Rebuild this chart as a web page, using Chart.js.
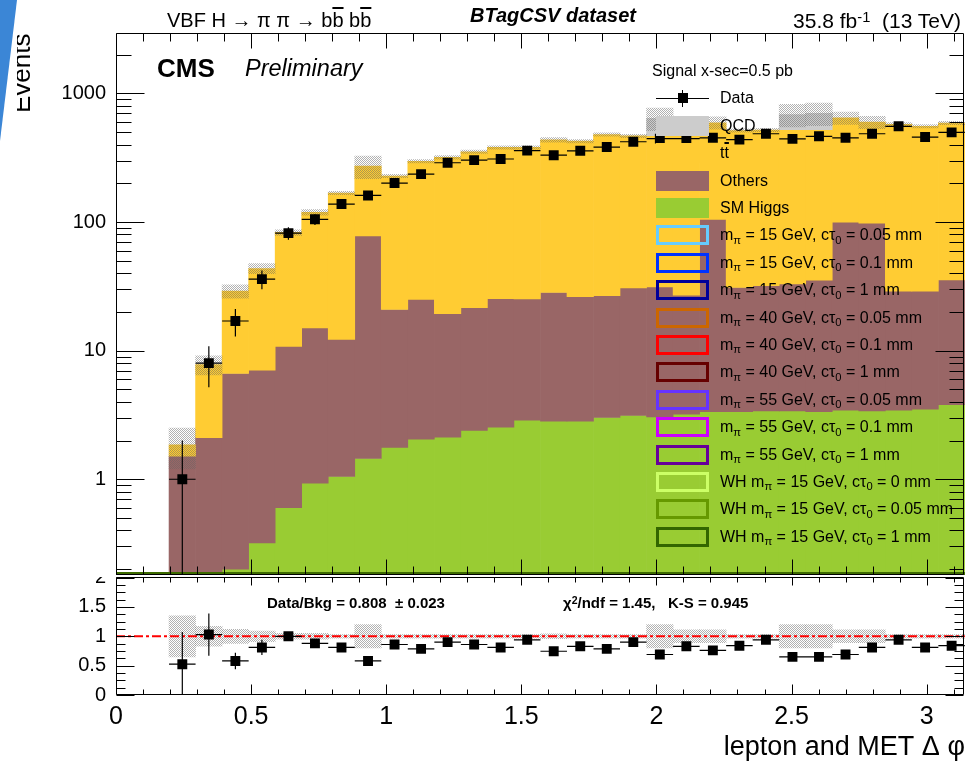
<!DOCTYPE html>
<html><head><meta charset="utf-8"><title>lepton and MET delta phi</title>
<script src="https://cdn.jsdelivr.net/npm/chart.js@4.4.1/dist/chart.umd.min.js"></script>
<style>
html,body{margin:0;padding:0;background:#fff;overflow:hidden}
#wrap{position:relative;width:969px;height:766px;overflow:hidden;background:#fff;font-family:"Liberation Sans",Arial,sans-serif;color:#000}
#ratioBox{position:absolute;left:0;top:556px;width:969px;height:210px;z-index:1}
#mainBox{position:absolute;left:0;top:0;width:969px;height:577px;z-index:2;background:#fff}
.lbl{position:absolute;white-space:nowrap;line-height:1;z-index:5}
.sub{position:relative;top:0.3em;font-size:0.7em}
.sup{position:relative;top:-0.45em;font-size:0.7em}
.ov{text-decoration:overline;text-decoration-thickness:2px}
.box{position:absolute;left:656px;width:53px;height:20px;box-sizing:border-box;z-index:4}
#evClip{position:absolute;left:17px;top:20px;width:30px;height:110px;overflow:hidden;z-index:5}
#stripe{position:absolute;left:0;top:0;width:20px;height:145px;background:#3b86d6;clip-path:polygon(0 0,17px 0,0 141px);z-index:6}
</style></head>
<body>
<div id="wrap">
  <div id="ratioBox"><canvas id="ratioChart"></canvas></div>
  <div id="mainBox"><canvas id="mainChart"></canvas></div>
  <div id="evClip"></div>
  <div id="stripe"></div>
</div>
<script>
// ---------------- data ----------------
const binCenters = [0.0491,0.1473,0.2454,0.3436,0.4418,0.5400,0.6381,0.7363,0.8345,0.9327,1.0308,1.1290,1.2272,1.3254,1.4235,1.5217,1.6199,1.7181,1.8162,1.9144,2.0126,2.1108,2.2089,2.3071,2.4053,2.5035,2.6016,2.6998,2.7980,2.8962,2.9943,3.0925];
const binWidth = 0.098175;
const smHiggs = [0,0,0,0,0.20,0.32,0.60,0.93,1.05,1.45,1.77,2.05,2.12,2.40,2.54,2.88,2.83,2.83,3.02,3.13,3.05,3.2,3.35,3.35,3.4,3.4,3.35,3.45,3.4,3.45,3.5,3.8];
const others = [0,0,1.51,2.10,6.44,6.73,10.2,14.1,11.2,76.5,19.1,23.0,17.3,19.2,22.8,22.4,25.5,23.5,23.7,27.6,28.3,23.8,101.6,27.6,28.6,29.6,32.0,96.5,94.6,25.5,25.5,31.6];
const ttbar = [0,0,0.34,5.7,22.4,36.5,72.2,104,156,194,207,272,299,330,355,355,407,399,453,437,439,513,487,484,488,489,487,545,500,546,526,553];
const qcd = [0,0,0,0,0,0,0,0,0,0,0,0,0,0,0,0,0,0,0,0,170,0,0,0,0,163,178,0,0,0,0,0];
const dataCounts = [null,null,1,8,17,36,82,105,138,161,201,236,289,303,309,359,331,358,383,421,445,445,452,437,486,443,464,452,486,555,458,498];
const dataErr = [0,0,1,2.8,4.1,6,9.1,10.2,11.7,12.7,14.2,15.4,17,17.4,17.6,18.9,18.2,18.9,19.6,20.5,21.1,21.1,21.3,20.9,22,21,21.5,21.3,22,23.6,21.4,22.3];
const mcRelErr = [0,0,0.35,0.17,0.12,0.09,0.05,0.05,0.03,0.2,0.03,0.03,0.03,0.03,0.03,0.03,0.04,0.03,0.03,0.03,0.2,0.11,0.11,0.03,0.03,0.2,0.2,0.11,0.11,0.03,0.03,0.03];
const ratioVals = [null,null,0.525,1.03,0.58,0.81,1.0,0.88,0.81,0.58,0.86,0.785,0.90,0.86,0.81,0.94,0.745,0.83,0.785,0.90,0.69,0.83,0.76,0.84,0.94,0.65,0.65,0.69,0.81,0.94,0.81,0.84];
const ratioErr = [0,0,0.55,0.36,0.14,0.13,0.07,0.06,0.05,0.05,0.04,0.04,0.04,0.04,0.04,0.04,0.035,0.04,0.035,0.04,0.04,0.04,0.04,0.04,0.04,0.035,0.035,0.035,0.04,0.04,0.04,0.04];
const xTickLabels = [0,0.5,1,1.5,2,2.5,3];
const yTickLabels = [1,10,100,1000];
const ratioTickLabels = [0,0.5,1,1.5,2];

// ---------------- helpers ----------------
Chart.defaults.font.family = "'Liberation Sans', Arial, sans-serif";
Chart.defaults.color = '#000';

const hatch = (function(){
  const c = document.createElement('canvas'); c.width = 2; c.height = 2;
  const g = c.getContext('2d');
  g.fillStyle = 'rgba(100,100,100,0.5)';
  g.fillRect(0,0,1,1); g.fillRect(1,1,1,1);
  return document.createElement('canvas').getContext('2d').createPattern(c,'repeat');
})();

const FLOOR = 1e-3;
const c1 = smHiggs.map(v=>v);
const c2 = c1.map((v,i)=>v+others[i]);
const c3 = c2.map((v,i)=>v+ttbar[i]);
const c4 = c3.map((v,i)=>v+qcd[i]);
function seg(lo, hi){
  return binCenters.map((c,i)=> (hi[i]-(lo?lo[i]:0) > 0) ? {x:c, y:[(lo && lo[i]>0)?lo[i]:FLOOR, hi[i]]} : {x:c, y:null});
}
const barCommon = {type:'bar', barPercentage:1, categoryPercentage:1, grouped:false, borderWidth:0, clip:0};
function fixY(s){ s.width = 116; s.paddingTop = 0; s.paddingBottom = 0; }

const frameTicks = {
  id:'frameTicks',
  afterDatasetsDraw(chart, args, o){
    const {ctx, chartArea:a, scales} = chart;
    const x = scales.x, y = scales.y;
    ctx.save();
    if (o.bottomLine){
      ctx.strokeStyle = o.bottomLine; ctx.lineWidth = 3;
      ctx.beginPath(); ctx.moveTo(a.left, a.bottom-1.5); ctx.lineTo(a.right, a.bottom-1.5); ctx.stroke();
    }
    ctx.strokeStyle = '#000'; ctx.lineWidth = 1;
    const L = Math.floor(a.left)+0.5, R = Math.floor(a.right)-0.5, T = Math.floor(a.top)+0.5, B = Math.floor(a.bottom)-0.5;
    ctx.beginPath();
    ctx.rect(L, T, R-L, B-T);
    for (let k=0;k<=31;k++){
      const v = k/10; const p = Math.round(x.getPixelForValue(v))+0.5;
      if (p > R) continue;
      const maj = k%5===0;
      const lb = maj?o.xMajB:o.xMinB, lt = maj?o.xMajT:o.xMinT;
      ctx.moveTo(p, B); ctx.lineTo(p, B-lb);
      ctx.moveTo(p, T); ctx.lineTo(p, T+lt);
    }
    const yv = o.yTicks();
    yv.forEach(t=>{
      if (t.v < y.min-1e-9 || t.v > y.max+1e-9) return;
      const p = Math.round(y.getPixelForValue(t.v))+0.5;
      const ll = t.maj?o.yMajL:o.yMinL, lr = t.maj?o.yMajR:o.yMinR;
      ctx.moveTo(L, p); ctx.lineTo(L+ll, p);
      ctx.moveTo(R, p); ctx.lineTo(R-lr, p);
    });
    ctx.stroke();
    const e = o.err;
    if (e){
      ctx.save();
      ctx.beginPath(); ctx.rect(a.left, a.top, a.right-a.left, a.bottom-a.top); ctx.clip();
      ctx.strokeStyle = '#000'; ctx.lineWidth = 1.2;
      ctx.beginPath();
      e.vals.forEach((v,i)=>{
        if (v===null) return;
        const cx = binCenters[i];
        const py = y.getPixelForValue(v);
        const x0 = x.getPixelForValue(cx-binWidth/2), x1 = x.getPixelForValue(cx+binWidth/2);
        ctx.moveTo(x0, py); ctx.lineTo(x1, py);
        const px = x.getPixelForValue(cx);
        const hi = y.getPixelForValue(v+e.err[i]);
        const lo = (v-e.err[i] > (e.log?0:-1e9)) ? y.getPixelForValue(v-e.err[i]) : a.bottom;
        ctx.moveTo(px, hi); ctx.lineTo(px, isFinite(lo)?lo:a.bottom);
      });
      ctx.stroke();
      ctx.restore();
    }
    ctx.restore();
  }
};

// ---------------- main chart ----------------
new Chart(document.getElementById('mainChart'), {
  type:'bar',
  data:{ datasets:[
    {type:'scatter', label:'Data', data: binCenters.map((c,i)=>({x:c, y:dataCounts[i]})), pointStyle:'rect', pointRadius:7, pointHoverRadius:7, backgroundColor:'#000', borderWidth:0, order:0},
    Object.assign({label:'Bkg. uncertainty', data: binCenters.map((c,i)=> c4[i]>0 ? {x:c, y:[c4[i]*(1-mcRelErr[i]), c4[i]*(1+mcRelErr[i])]} : {x:c, y:null}), backgroundColor:hatch, order:1}, barCommon),
    Object.assign({label:'QCD', data: seg(c3,c4), backgroundColor:'#cccccc', order:2}, barCommon),
    Object.assign({label:'tt', data: seg(c2,c3), backgroundColor:'#ffcc33', order:3}, barCommon),
    Object.assign({label:'Others', data: seg(c1,c2), backgroundColor:'#996666', order:4}, barCommon),
    Object.assign({label:'SM Higgs', data: seg(null,c1), backgroundColor:'#99cc33', order:5}, barCommon)
  ]},
  options:{
    responsive:true, maintainAspectRatio:false, animation:false, events:[],
    layout:{autoPadding:false, padding:{top:33.3, right:4.1, bottom:2, left:0}},
    plugins:{legend:{display:false}, tooltip:{enabled:false},
      frameTicks:{ xMajB:15, xMinB:8, xMajT:15, xMinT:8, yMajL:28, yMinL:15, yMajR:28, yMinR:14,
        bottomLine:'#3d6b00',
        yTicks:()=>{const r=[]; for(let d=-1; d<=3; d++) for(let m=1;m<=9;m++) r.push({v:m*Math.pow(10,d), maj:m===1}); return r;},
        err:{vals:dataCounts, err:dataErr, log:true} }
    },
    scales:{
      x:{type:'linear', offset:false, min:0, max:Math.PI, afterBuildTicks:s=>{s.ticks = xTickLabels.map(v=>({value:v}));},
         ticks:{display:false}, grid:{display:false, drawTicks:false, offset:false}, border:{display:false}, afterFit:s=>{s.height=0; s.paddingLeft=0; s.paddingRight=0;}},
      y:{type:'logarithmic', min:0.18, max:2935, afterBuildTicks:s=>{s.ticks = yTickLabels.map(v=>({value:v, major:true}));},
         ticks:{font:{size:20}, padding:10, autoSkip:false, callback:v=>String(v)},
         grid:{display:false, drawTicks:false}, border:{display:false}, afterFit:fixY}
    }
  },
  plugins:[frameTicks]
});

// ---------------- ratio chart ----------------
new Chart(document.getElementById('ratioChart'), {
  type:'bar',
  data:{ datasets:[
    {type:'scatter', label:'Data/Bkg', data: binCenters.map((c,i)=>({x:c, y:ratioVals[i]})), pointStyle:'rect', pointRadius:7, pointHoverRadius:7, backgroundColor:'#000', borderWidth:0, order:0},
    {type:'line', label:'unity', data:[{x:0,y:1},{x:Math.PI,y:1}], borderColor:'#ff0000', borderWidth:2, borderDash:[9,3,3,3], pointRadius:0, order:1},
    Object.assign({label:'Bkg. uncertainty', data: binCenters.map((c,i)=> mcRelErr[i]>0 ? {x:c, y:[1-mcRelErr[i], 1+mcRelErr[i]]} : {x:c, y:null}), backgroundColor:hatch, order:2}, barCommon)
  ]},
  options:{
    responsive:true, maintainAspectRatio:false, animation:false, events:[],
    layout:{autoPadding:false, padding:{top:21.6, right:4.1, bottom:0, left:0}},
    plugins:{legend:{display:false}, tooltip:{enabled:false},
      frameTicks:{ xMajB:10, xMinB:5, xMajT:8, xMinT:5, yMajL:18, yMinL:9, yMajR:18, yMinR:9,
        yTicks:()=>{const r=[]; for(let k=0;k<=16;k++) r.push({v:k*0.125, maj:k%4===0}); return r;},
        err:{vals:ratioVals, err:ratioErr, log:false} }
    },
    scales:{
      x:{type:'linear', offset:false, min:0, max:Math.PI, afterBuildTicks:s=>{s.ticks = xTickLabels.map(v=>({value:v}));},
         ticks:{font:{size:25}, padding:7, autoSkip:false, maxRotation:0, callback:v=>String(v)},
         grid:{display:false, drawTicks:false, offset:false}, border:{display:false},
         title:{display:true, text:'lepton and MET \u0394 \u03c6', align:'end', font:{size:27}, padding:{top:0, bottom:2}},
         afterFit:s=>{s.height=71; s.paddingLeft=0; s.paddingRight=0;}},
      y:{type:'linear', min:0, max:2, afterBuildTicks:s=>{s.ticks = ratioTickLabels.map(v=>({value:v}));},
         ticks:{font:{size:20}, padding:10, autoSkip:false, callback:v=>String(v)},
         grid:{display:false, drawTicks:false}, border:{display:false}, afterFit:fixY}
    }
  },
  plugins:[frameTicks]
});

// ---------------- text overlays ----------------
const wrap = document.getElementById('wrap');
function addLabel(html, o, parent){
  const d = document.createElement('div');
  d.className = 'lbl';
  d.innerHTML = html;
  d.style.fontSize = o.size+'px';
  if (o.weight) d.style.fontWeight = o.weight;
  if (o.style) d.style.fontStyle = o.style;
  d.style.top = (o.baseline - 0.8465*o.size)+'px';
  if (o.right !== undefined) d.style.right = (969-o.right)+'px'; else d.style.left = o.left+'px';
  (parent||wrap).appendChild(d);
  return d;
}
addLabel('VBF H \u2192 \u03c0 \u03c0 \u2192 b<span class="ov">b</span> b<span class="ov">b</span>', {left:167, baseline:27, size:20});
addLabel('BTagCSV dataset', {left:470, baseline:21.5, size:20, weight:'bold', style:'italic'});
addLabel('35.8 fb<span class="sup">-1</span>&nbsp; (13 TeV)', {right:961, baseline:28, size:21});
addLabel('CMS', {left:157, baseline:77, size:26, weight:'bold'});
addLabel('Preliminary', {left:245, baseline:77, size:23.5, style:'italic'});
addLabel('Signal x-sec=0.5 pb', {left:652, baseline:76.5, size:16});
addLabel('Data/Bkg = 0.808 &nbsp;\u00b1 0.023', {left:267, baseline:608, size:15, weight:'bold'});
addLabel('\u03c7<span class="sup">2</span>/ndf = 1.45, &nbsp; K-S = 0.945', {left:563, baseline:608, size:15, weight:'bold'});

// y axis title (rotated, clipped at its left like the reference)
const ev = document.createElement('div');
ev.className = 'lbl'; ev.textContent = 'Events';
Object.assign(ev.style, {fontSize:'26px', left:'-9px', top:'93px', transformOrigin:'0 0', transform:'rotate(-90deg)'});
document.getElementById('evClip').appendChild(ev);

// legend
const sig = (m, ct, wh) => (wh?'WH ':'') + 'm<span class="sub">\u03c0</span> = ' + m + ' GeV, c\u03c4<span class="sub">0</span> = ' + ct + ' mm';
const legendEntries = [
  {kind:'data', label:'Data'},
  {kind:'fill', color:'#cccccc', label:'QCD'},
  {kind:'fill', color:'#ffcc33', label:'t<span class="ov">t</span>'},
  {kind:'fill', color:'#996666', label:'Others'},
  {kind:'fill', color:'#99cc33', label:'SM Higgs'},
  {kind:'line', color:'#66ccff', label:sig(15,'0.05')},
  {kind:'line', color:'#0033ff', label:sig(15,'0.1')},
  {kind:'line', color:'#000099', label:sig(15,'1')},
  {kind:'line', color:'#cc6600', label:sig(40,'0.05')},
  {kind:'line', color:'#ff0000', label:sig(40,'0.1')},
  {kind:'line', color:'#660000', label:sig(40,'1')},
  {kind:'line', color:'#6633ff', label:sig(55,'0.05')},
  {kind:'line', color:'#cc00ff', label:sig(55,'0.1')},
  {kind:'line', color:'#660099', label:sig(55,'1')},
  {kind:'line', color:'#ccff66', label:sig(15,'0',true)},
  {kind:'line', color:'#669900', label:sig(15,'0.05',true)},
  {kind:'line', color:'#336600', label:sig(15,'1',true)}
];
legendEntries.forEach((e,k)=>{
  const yc = 98.3 + 27.4*k;
  if (e.kind === 'data'){
    const h = document.createElement('div');
    Object.assign(h.style, {position:'absolute', left:'656px', top:(yc-0.5)+'px', width:'53px', height:'1px', background:'#000', zIndex:4});
    wrap.appendChild(h);
    const v = document.createElement('div');
    Object.assign(v.style, {position:'absolute', left:'682px', top:(yc-8.5)+'px', width:'1px', height:'17px', background:'#000', zIndex:4});
    wrap.appendChild(v);
    const s = document.createElement('div');
    Object.assign(s.style, {position:'absolute', left:'677.5px', top:(yc-5)+'px', width:'10px', height:'10px', background:'#000', zIndex:4});
    wrap.appendChild(s);
  } else {
    const b = document.createElement('div');
    b.className = 'box';
    b.style.top = (yc-10)+'px';
    if (e.kind === 'fill') b.style.background = e.color;
    else b.style.border = '3px solid '+e.color;
    wrap.appendChild(b);
  }
  addLabel(e.label, {left:720, baseline:yc+5.7, size:16});
});
</script>
</body></html>
